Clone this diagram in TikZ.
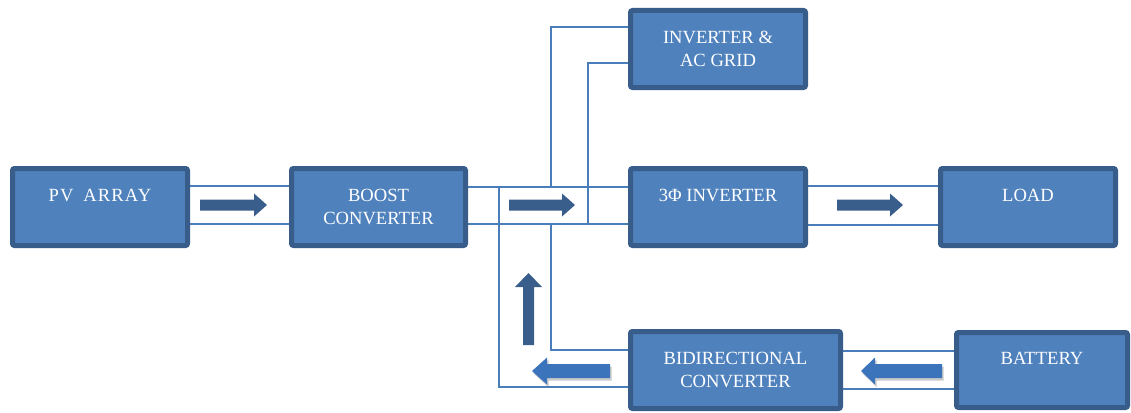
\documentclass[tikz,border=0pt]{standalone}
\usepackage{fontspec}
\setmainfont{Liberation Serif}
\usetikzlibrary{calc,backgrounds,shadows}
\definecolor{boxfill}{HTML}{4F81BD}
\definecolor{boxborder}{HTML}{385D8A}
\definecolor{busline}{HTML}{4A7EBB}
\definecolor{darkarrow}{HTML}{3A5E8C}
\definecolor{lightarrow}{HTML}{3C74BB}
\tikzset{
  blockbox/.style={draw=boxborder, line width=5pt, fill=boxfill, rounded corners=2pt,
    text=white, font=\fontsize{18.6}{23}\selectfont, align=center,
    inner sep=0pt, outer sep=0pt},
  busl/.style={draw=busline, line width=1.8pt},
  darr/.style={fill=darkarrow},
  larr/.style={fill=lightarrow, drop shadow={shadow xshift=1.5pt, shadow yshift=-2.5pt, opacity=0.35, fill=black!60}}
}
\begin{document}
\begin{tikzpicture}[x=1pt,y=-1pt]
\useasboundingbox (0,0) rectangle (1131,412);
% boxes
\node[blockbox, minimum width=175pt, minimum height=77pt] (pv) at (100,207) {\addfontfeature{LetterSpace=6}PV\hspace{4pt} ARRAY\\\mbox{}};
\node[blockbox, minimum width=174pt, minimum height=77pt] (boost) at (378.5,207) {BOOST\\CONVERTER};
\node[blockbox, minimum width=175pt, minimum height=77pt] (grid) at (718,49) {INVERTER \&\\AC GRID};
\node[blockbox, minimum width=175pt, minimum height=77pt] (inv) at (718,207) {3Φ INVERTER\\\mbox{}};
\node[blockbox, minimum width=175pt, minimum height=77pt] (load) at (1028,207) {LOAD\\\mbox{}};
\node[blockbox, minimum width=210pt, minimum height=77pt] (bidi) at (735.5,370) {BIDIRECTIONAL\\CONVERTER};
\node[blockbox, minimum width=171pt, minimum height=75pt] (batt) at (1042,370) {BATTERY\\\mbox{}};
% bus coordinates
\coordinate (busT) at ($(inv.west)+(0,-20)$);
\coordinate (busB) at ($(inv.west)+(0,17)$);
\coordinate (xa) at (499,0);
\coordinate (xb) at (551,0);
\coordinate (xc) at (588,0);
\begin{scope}[on background layer]
\draw[busl] ($(pv.east)+(0,-21)$) -- ($(boost.west)+(0,-21)$);
\draw[busl] ($(pv.east)+(0,17)$) -- ($(boost.west)+(0,17)$);
\draw[busl] (boost.east |- busT) -- (busT);
\draw[busl] (boost.east |- busB) -- (busB);
\draw[busl] ($(grid.west)+(0,-22)$) -| (xb |- busT);
\draw[busl] ($(grid.west)+(0,14)$) -| (xc |- busB);
\draw[busl] (xb |- busB) |- ($(bidi.west)+(0,-20)$);
\draw[busl] (xa |- busT) |- ($(bidi.west)+(0,17)$);
\draw[busl] ($(inv.east)+(0,-21)$) -- ($(load.west)+(0,-21)$);
\draw[busl] ($(inv.east)+(0,18)$) -- ($(load.west)+(0,18)$);
\draw[busl] ($(bidi.east)+(0,-19)$) -- ($(batt.west)+(0,-19)$);
\draw[busl] ($(bidi.east)+(0,19)$) -- ($(batt.west)+(0,19)$);
\end{scope}
% block arrows
\fill[darr] (200,199.5) -- (254,199.5) -- (254,193.5) -- (267,205) -- (254,216.5) -- (254,210.5) -- (200,210.5) -- cycle;
\fill[darr] (509,199.5) -- (562,199.5) -- (562,193.5) -- (575,205) -- (562,216.5) -- (562,210.5) -- (509,210.5) -- cycle;
\fill[darr] (837,199.5) -- (890,199.5) -- (890,193.5) -- (903,205) -- (890,216.5) -- (890,210.5) -- (837,210.5) -- cycle;
\fill[darr] (523,345) -- (523,287) -- (515,287) -- (528.5,273) -- (542,287) -- (534,287) -- (534,345) -- cycle;
\fill[larr] (610,364) -- (547,364) -- (547,357.5) -- (532,371) -- (547,384.5) -- (547,378) -- (610,378) -- cycle;
\fill[larr] (942,364) -- (875,364) -- (875,357.5) -- (861,371) -- (875,384.5) -- (875,378) -- (942,378) -- cycle;
\end{tikzpicture}
\end{document}
